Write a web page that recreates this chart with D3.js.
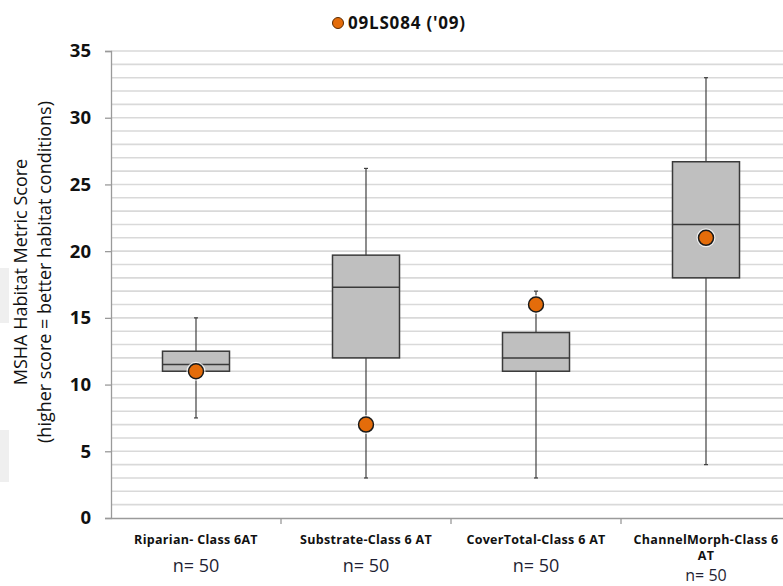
<!DOCTYPE html>
<html>
<head>
<meta charset="utf-8">
<script src="https://cdn.jsdelivr.net/npm/d3@7"></script>
<style>
  body { margin: 0; background: #fff; }
  text { font-family: "Open Sans", "Noto Sans", sans-serif; }
</style>
</head>
<body>
<div id="chart"></div>
<script>
const width = 783, height = 586;
const margin = { left: 111, top: 51, bottom: 68 };

const categories = ["Riparian- Class 6AT", "Substrate-Class 6 AT", "CoverTotal-Class 6 AT", "ChannelMorph-Class 6 AT"];
const labelLines = [["Riparian- Class 6AT"], ["Substrate-Class 6 AT"], ["CoverTotal-Class 6 AT"], ["ChannelMorph-Class 6", "AT"]];
const whiskerLow = [7.5, 3, 3, 4];
const q1 = [11, 12, 11, 18];
const median = [11.5, 17.3, 12, 22];
const q3 = [12.5, 19.7, 13.9, 26.7];
const whiskerHigh = [15, 26.2, 17, 33];
const siteScore = [11, 7, 16, 21];
const nCounts = [50, 50, 50, 50];
const yTicks = [0, 5, 10, 15, 20, 25, 30, 35];
const seriesName = "09LS084 ('09)";

const rows = categories.map((c, i) => ({
  cat: c, lines: labelLines[i], lo: whiskerLow[i], q1: q1[i], med: median[i],
  q3: q3[i], hi: whiskerHigh[i], site: siteScore[i], n: nCounts[i]
}));

const svg = d3.select("#chart").append("svg")
  .attr("width", width).attr("height", height);

// faint scan artefacts on the left edge of the original
svg.append("rect").attr("x", 0).attr("y", 268).attr("width", 9).attr("height", 55).attr("fill", "#efefef");
svg.append("rect").attr("x", 0).attr("y", 430).attr("width", 9).attr("height", 52).attr("fill", "#efefef");

// band width is 170px; the plot runs past the right edge (clipped like the original)
const x = d3.scaleBand().domain(categories).range([margin.left, margin.left + 680]).paddingInner(0).paddingOuter(0);
const y = d3.scaleLinear().domain([0, 35]).range([height - margin.bottom, margin.top]);

// minor gridlines every 1 unit
svg.append("g")
  .selectAll("line")
  .data(d3.range(1, 36))
  .join("line")
    .attr("x1", margin.left).attr("x2", width)
    .attr("y1", d => y(d)).attr("y2", d => y(d))
    .attr("stroke", "#d9d9d9").attr("stroke-width", 1.6);

// y axis
const yAxis = svg.append("g")
  .attr("transform", `translate(${margin.left},0)`)
  .call(d3.axisLeft(y).tickValues(yTicks).tickSize(6).tickPadding(14));
yAxis.select(".domain").attr("stroke", "#9a9a9a").attr("stroke-width", 1.3);
yAxis.selectAll(".tick line").attr("stroke", "#9a9a9a").attr("stroke-width", 1.3);
yAxis.selectAll(".tick text")
  .attr("font-family", "Open Sans, sans-serif")
  .attr("font-size", 18.5).attr("font-weight", 700).attr("fill", "#111");

// x axis
const xAxis = svg.append("g")
  .attr("transform", `translate(0,${y(0)})`)
  .call(d3.axisBottom(x).tickValues([]).tickSizeOuter(0));
xAxis.select(".domain").attr("stroke", "#9a9a9a").attr("stroke-width", 1.3);
xAxis.selectAll(".sep")
  .data(categories.slice(1))
  .join("line")
    .attr("class", "sep")
    .attr("x1", d => x(d)).attr("x2", d => x(d))
    .attr("y1", 0).attr("y2", 6)
    .attr("stroke", "#9a9a9a").attr("stroke-width", 1.3);

const cx = d => x(d.cat) + x.bandwidth() / 2;
const boxW = 67;
const capW = 4;

const box = svg.append("g").selectAll("g").data(rows).join("g");

// whiskers
box.append("line")
  .attr("x1", cx).attr("x2", cx)
  .attr("y1", d => y(d.hi)).attr("y2", d => y(d.lo))
  .attr("stroke", "#404040").attr("stroke-width", 1.2);
box.append("line")
  .attr("x1", d => cx(d) - capW / 2).attr("x2", d => cx(d) + capW / 2)
  .attr("y1", d => y(d.hi)).attr("y2", d => y(d.hi))
  .attr("stroke", "#404040").attr("stroke-width", 1.2);
box.append("line")
  .attr("x1", d => cx(d) - capW / 2).attr("x2", d => cx(d) + capW / 2)
  .attr("y1", d => y(d.lo)).attr("y2", d => y(d.lo))
  .attr("stroke", "#404040").attr("stroke-width", 1.2);

// boxes
box.append("rect")
  .attr("x", d => cx(d) - boxW / 2)
  .attr("y", d => y(d.q3))
  .attr("width", boxW)
  .attr("height", d => y(d.q1) - y(d.q3))
  .attr("fill", "#bfbfbf")
  .attr("stroke", "#3a3a3a").attr("stroke-width", 1.5);
box.append("line")
  .attr("x1", d => cx(d) - boxW / 2).attr("x2", d => cx(d) + boxW / 2)
  .attr("y1", d => y(d.med)).attr("y2", d => y(d.med))
  .attr("stroke", "#3a3a3a").attr("stroke-width", 1.5);

// site dots
box.append("circle")
  .attr("cx", cx).attr("cy", d => y(d.site))
  .attr("r", 9.5).attr("fill", "#fff").attr("opacity", 0.75);
box.append("circle")
  .attr("cx", cx).attr("cy", d => y(d.site))
  .attr("r", 7.5)
  .attr("fill", "#e46c0a")
  .attr("stroke", "#1a1a1a").attr("stroke-width", 1.5);

// category labels
const lab = svg.append("g").selectAll("g").data(rows).join("g")
  .attr("transform", d => `translate(${cx(d)},0)`);
lab.each(function(d) {
  const g = d3.select(this);
  d.lines.forEach((t, i) => {
    g.append("text")
      .attr("y", 544 + i * 16)
      .attr("text-anchor", "middle")
      .attr("font-size", 12.5).attr("font-weight", 700).attr("fill", "#111")
      .attr("letter-spacing", 0.3)
      .text(t);
  });
  const wrapped = d.lines.length > 1;
  g.append("text")
    .attr("y", wrapped ? 581 : 572)
    .attr("text-anchor", "middle")
    .attr("font-size", wrapped ? 16 : 18).attr("fill", "#1f1f33")
    .text(`n= ${d.n}`);
});

// y axis title
const yt = svg.append("text")
  .attr("transform", "translate(27,272) rotate(-90)")
  .attr("text-anchor", "middle")
  .attr("font-size", 18).attr("fill", "#111");
yt.append("tspan").attr("x", 0).attr("dy", 0).text("MSHA Habitat Metric Score");
yt.append("tspan").attr("x", 0).attr("dy", 24).text("(higher score = better habitat conditions)");

// legend
const leg = svg.append("g").attr("transform", "translate(338,23)");
leg.append("circle")
  .attr("r", 5.5).attr("fill", "#e46c0a")
  .attr("stroke", "#5a2a00").attr("stroke-width", 1);
leg.append("text")
  .attr("x", 10).attr("y", 6)
  .attr("font-size", 17).attr("font-weight", 700).attr("fill", "#111")
  .attr("letter-spacing", 0.8)
  .text(seriesName);
</script>
</body>
</html>
